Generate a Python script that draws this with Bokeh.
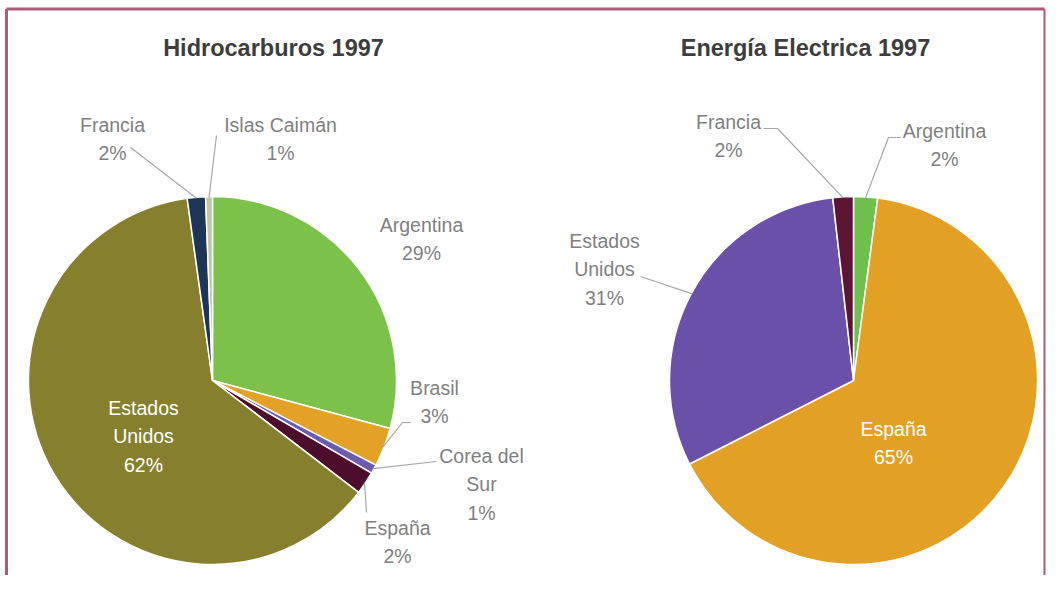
import math
from bokeh.plotting import figure
from bokeh.models import Range1d
from bokeh.core.properties import value
from bokeh.embed import file_html
from bokeh.resources import INLINE

# ---------------- data ----------------
hc_title = "Hidrocarburos 1997"
hc_countries = ["Argentina", "Brasil", "Corea del Sur", "España",
                "Estados Unidos", "Francia", "Islas Caimán"]
hc_values = [29.2, 3.4, 0.8, 2.0, 62.4, 1.6, 0.6]

ee_title = "Energía Electrica 1997"
ee_countries = ["Argentina", "España", "Estados Unidos", "Francia"]
ee_values = [2.1, 65.4, 30.7, 1.8]

# ---------------- styles ----------------
hc_colors = ["#7cc24a", "#e3a126", "#6e5bb0", "#4d0e2d",
             "#857f2e", "#1d3557", "#b9c9a0"]
ee_colors = ["#6dc04b", "#e2a024", "#6a50a8", "#5c1433"]

wrap = {"Estados Unidos": ["Estados", "Unidos"],
        "Corea del Sur": ["Corea del", "Sur"]}

W, H = 1046, 575


def Y(py):
    return H - py


p = figure(width=W, height=H, x_range=Range1d(0, W), y_range=Range1d(0, H),
           output_backend="svg", toolbar_location=None,
           x_axis_type=None, y_axis_type=None, min_border=0)
p.grid.visible = False
p.outline_line_color = None
p.background_fill_color = "white"
p.border_fill_color = "white"

LABEL_FONT = value("Liberation Sans")
LABEL_SIZE = "19.5px"
LINE_GAP = 28.5
GREY = "#7f7f7f"
LEADER = "#a6a6a6"

# layout per pie: centre, radius, label anchors (x, y of first line), inside flag, leader path
hc_layout = dict(
    cx=212, cy=380, r=184,
    labels={
        "Argentina": ((421, 224), False, None),
        "Brasil": ((434, 387), False, [(410, 422), (402, 422)]),
        "Corea del Sur": ((481, 455), False, [(436, 461)]),
        "España": ((397, 527), False, [(366, 512)]),
        "Estados Unidos": ((143, 407), True, None),
        "Francia": ((112, 124), False, [(130, 147)]),
        "Islas Caimán": ((280, 124), False, [(216, 135)]),
    })

ee_layout = dict(
    cx=853, cy=380, r=184,
    labels={
        "Argentina": ((944, 130), False, [(900, 137), (888, 137)]),
        "España": ((893, 428), True, None),
        "Estados Unidos": ((604, 240), False, [(640, 276)]),
        "Francia": ((728, 121), False, [(763, 128), (777, 128)]),
    })


def draw_pie(countries, values, colors, layout, title, title_x):
    total = float(sum(values))
    cx, cy, r = layout["cx"], layout["cy"], layout["r"]
    starts, ends, mids = [], [], []
    c = 0.0
    for v in values:
        a0 = math.pi / 2 - 2 * math.pi * c / total
        a1 = math.pi / 2 - 2 * math.pi * (c + v) / total
        starts.append(a0)
        ends.append(a1)
        mids.append((a0 + a1) / 2)
        c += v
    p.wedge(x=[cx] * len(values), y=[Y(cy)] * len(values), radius=r,
            start_angle=starts, end_angle=ends, direction="clock",
            fill_color=colors, line_color="white", line_width=1.5)

    for name, v, m in zip(countries, values, mids):
        (lx, ly), inside, path = layout["labels"][name]
        lines = wrap.get(name, [name]) + ["%d%%" % round(v / total * 100)]
        col = "white" if inside else GREY
        xs = [lx] * len(lines)
        ys = [Y(ly + i * LINE_GAP) for i in range(len(lines))]
        p.text(x=xs, y=ys, text=lines, text_align="center", text_baseline="middle",
               text_font=LABEL_FONT, text_font_size=LABEL_SIZE, text_color=col)
        if path:
            rim = (cx + (r - 1) * math.cos(m), Y(cy) + (r - 1) * math.sin(m))
            px = [q[0] for q in path] + [rim[0]]
            py = [Y(q[1]) for q in path] + [rim[1]]
            p.line(px, py, line_color=LEADER, line_width=1.2)

    p.text(x=[title_x], y=[Y(47)], text=[title], text_align="center", text_baseline="middle",
           text_font=LABEL_FONT, text_font_size="23.5px", text_font_style="bold",
           text_color="#3d3d3d")


draw_pie(hc_countries, hc_values, hc_colors, hc_layout, hc_title, 273)
draw_pie(ee_countries, ee_values, ee_colors, ee_layout, ee_title, 805)

# frame (top, left, right)
BORDER = "#ad5a7c"
p.line([6, 6], [0, Y(8.5)], line_color=BORDER, line_width=3)
p.line([6, 1044], [Y(8.5), Y(8.5)], line_color=BORDER, line_width=3)
p.line([1044, 1044], [Y(8.5), 0], line_color=BORDER, line_width=2)

open("out.html", "w").write(file_html(p, INLINE))
